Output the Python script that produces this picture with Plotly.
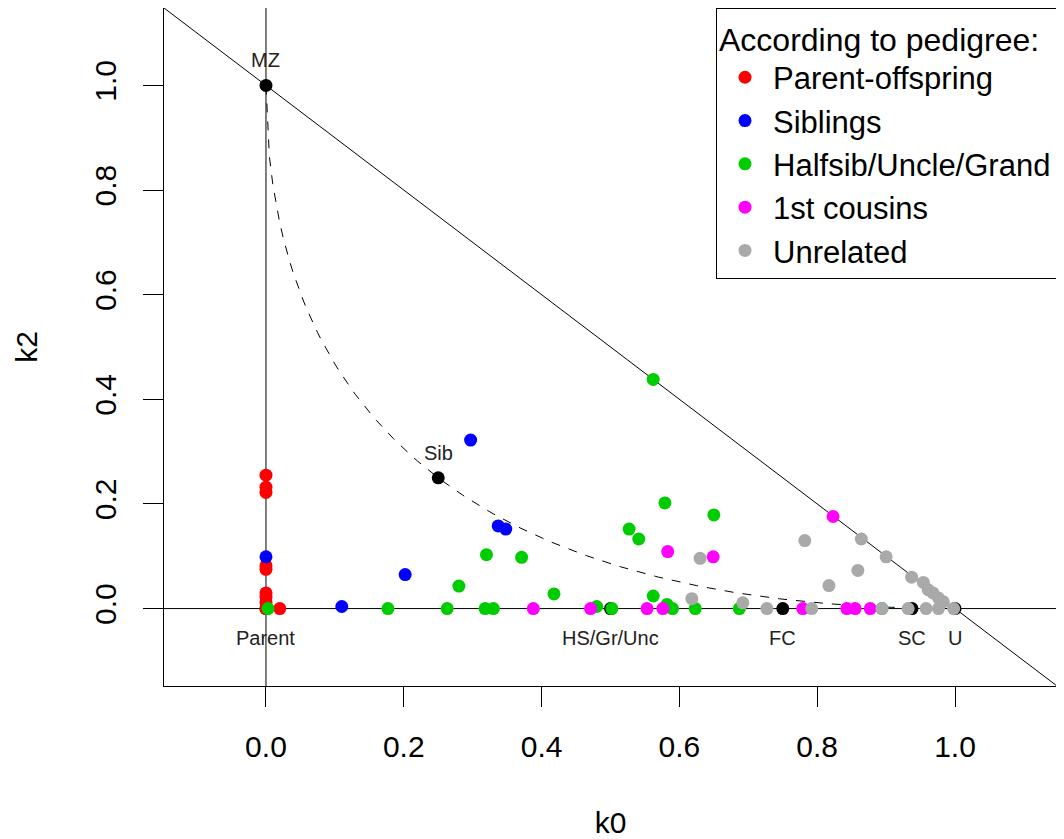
import numpy as np
import plotly.graph_objects as go

# ---- data ----
po_k0 = [0.0, 0.0, 0.0, 0.0, 0.0, 0.0, 0.0, 0.0, 0.0, 0.02]
po_k2 = [0.255, 0.232, 0.222, 0.082, 0.075, 0.030, 0.022, 0.012, 0.0, 0.0]

sib_k0 = [0.0, 0.110, 0.202, 0.297, 0.337, 0.348]
sib_k2 = [0.099, 0.004, 0.065, 0.322, 0.158, 0.152]

hs_k0 = [0.003, 0.177, 0.263, 0.280, 0.318, 0.320, 0.330, 0.371, 0.418, 0.480, 0.502,
         0.527, 0.541, 0.562, 0.562, 0.579, 0.582, 0.590, 0.623, 0.650, 0.687, 0.894]
hs_k2 = [0.0, 0.0, 0.0, 0.043, 0.0, 0.103, 0.0, 0.098, 0.028, 0.004, 0.0,
         0.152, 0.133, 0.438, 0.024, 0.202, 0.008, 0.0, 0.0, 0.179, 0.0, 0.0]

fc_k0 = [0.388, 0.471, 0.553, 0.576, 0.583, 0.649, 0.779, 0.823, 0.843, 0.855, 0.877]
fc_k2 = [0.0, 0.0, 0.0, 0.0, 0.109, 0.099, 0.0, 0.176, 0.0, 0.0, 0.0]

un_k0 = [0.618, 0.630, 0.692, 0.727, 0.782, 0.792, 0.817, 0.859, 0.864, 0.900, 0.894,
         0.932, 0.937, 0.954, 0.958, 0.961, 0.968, 0.976, 0.976, 0.983, 0.998]
un_k2 = [0.019, 0.096, 0.011, 0.0, 0.130, 0.0, 0.044, 0.073, 0.133, 0.099, 0.0,
         0.0, 0.060, 0.050, 0.0, 0.036, 0.030, 0.020, 0.0, 0.013, 0.0]

ref_names = ["MZ", "Sib", "Parent", "HS/Gr/Unc", "FC", "SC", "U"]
ref_k0 = [0.0, 0.25, 0.0, 0.5, 0.75, 0.9375, 1.0]
ref_k2 = [1.0, 0.25, 0.0, 0.0, 0.0, 0.0, 0.0]
ref_above = [True, True, False, False, False, False, False]

# theoretical boundary 4*k0*k2 = k1^2  ->  k2 = (1 - sqrt(k0))^2
curve_k0 = np.linspace(0, 1, 201)
curve_k2 = (1 - np.sqrt(curve_k0)) ** 2

axis_range = [-0.148, 1.148]
tick_vals = [0.0, 0.2, 0.4, 0.6, 0.8, 1.0]
tick_text = ["0.0", "0.2", "0.4", "0.6", "0.8", "1.0"]

FONT = "Liberation Sans, Arial, sans-serif"

fig = go.Figure()

# diagonal k0 + k2 = 1
fig.add_trace(go.Scatter(x=axis_range, y=[1 - axis_range[0], 1 - axis_range[1]],
                         mode="lines", line=dict(color="black", width=1),
                         showlegend=False, hoverinfo="skip"))
# dashed boundary
fig.add_trace(go.Scatter(x=curve_k0, y=curve_k2, mode="lines",
                         line=dict(color="black", width=1, dash="dash"),
                         showlegend=False, hoverinfo="skip"))

fig.add_shape(type="line", xref="x", yref="paper", x0=0, x1=0, y0=0, y1=1,
              line=dict(color="black", width=1), layer="below")
fig.add_shape(type="line", xref="paper", yref="y", x0=0, x1=1, y0=0, y1=0,
              line=dict(color="black", width=1), layer="below")

# reference points
fig.add_trace(go.Scatter(x=ref_k0, y=ref_k2, mode="markers",
                         marker=dict(color="black", size=13),
                         showlegend=False, hoverinfo="skip"))

groups = [
    ("Parent-offspring", po_k0, po_k2, "#FF0000"),
    ("Siblings", sib_k0, sib_k2, "#0000FF"),
    ("Halfsib/Uncle/Grand", hs_k0, hs_k2, "#00CD00"),
    ("1st cousins", fc_k0, fc_k2, "#FF00FF"),
    ("Unrelated", un_k0, un_k2, "#A9A9A9"),
]
for name, xs, ys, col in groups:
    fig.add_trace(go.Scatter(x=xs, y=ys, mode="markers", name=name,
                             legendgroup=name,
                             marker=dict(color=col, size=13)))

for nm, x, y, above in zip(ref_names, ref_k0, ref_k2, ref_above):
    fig.add_annotation(x=x, y=y, text=nm, showarrow=False,
                       yshift=25 if above else -29,
                       font=dict(family=FONT, size=20, color="#222222"))

axis_common = dict(range=axis_range, tickvals=tick_vals, ticktext=tick_text,
                   showgrid=False, zeroline=False, showline=True, mirror=True,
                   linecolor="black", linewidth=1, ticks="outside", ticklen=20,
                   tickwidth=1, tickcolor="black", automargin=False,
                   tickfont=dict(family=FONT, size=30, color="black"))

# the page adds an 8px body margin, so the figure is 8px smaller each way
fig.update_layout(
    width=1056, height=831,
    margin=dict(l=156, r=7, t=0, b=153),
    paper_bgcolor="white", plot_bgcolor="white",
    font=dict(family=FONT, color="black"),
    xaxis=dict(**axis_common, ticklabelstandoff=14,
               title=dict(text="k0", font=dict(family=FONT, size=30), standoff=60)),
    yaxis=dict(**axis_common, tickangle=-90, ticklabelstandoff=15,
               title=dict(text="k2", font=dict(family=FONT, size=30), standoff=42)),
    legend=dict(x=1, y=1, xanchor="right", yanchor="top",
                bordercolor="black", borderwidth=1, bgcolor="white",
                font=dict(family=FONT, size=31, color="black"),
                title=dict(text="According to pedigree:", font=dict(family=FONT, size=32)),
                tracegroupgap=0, itemwidth=46),
)

fig.write_html("out.html")
